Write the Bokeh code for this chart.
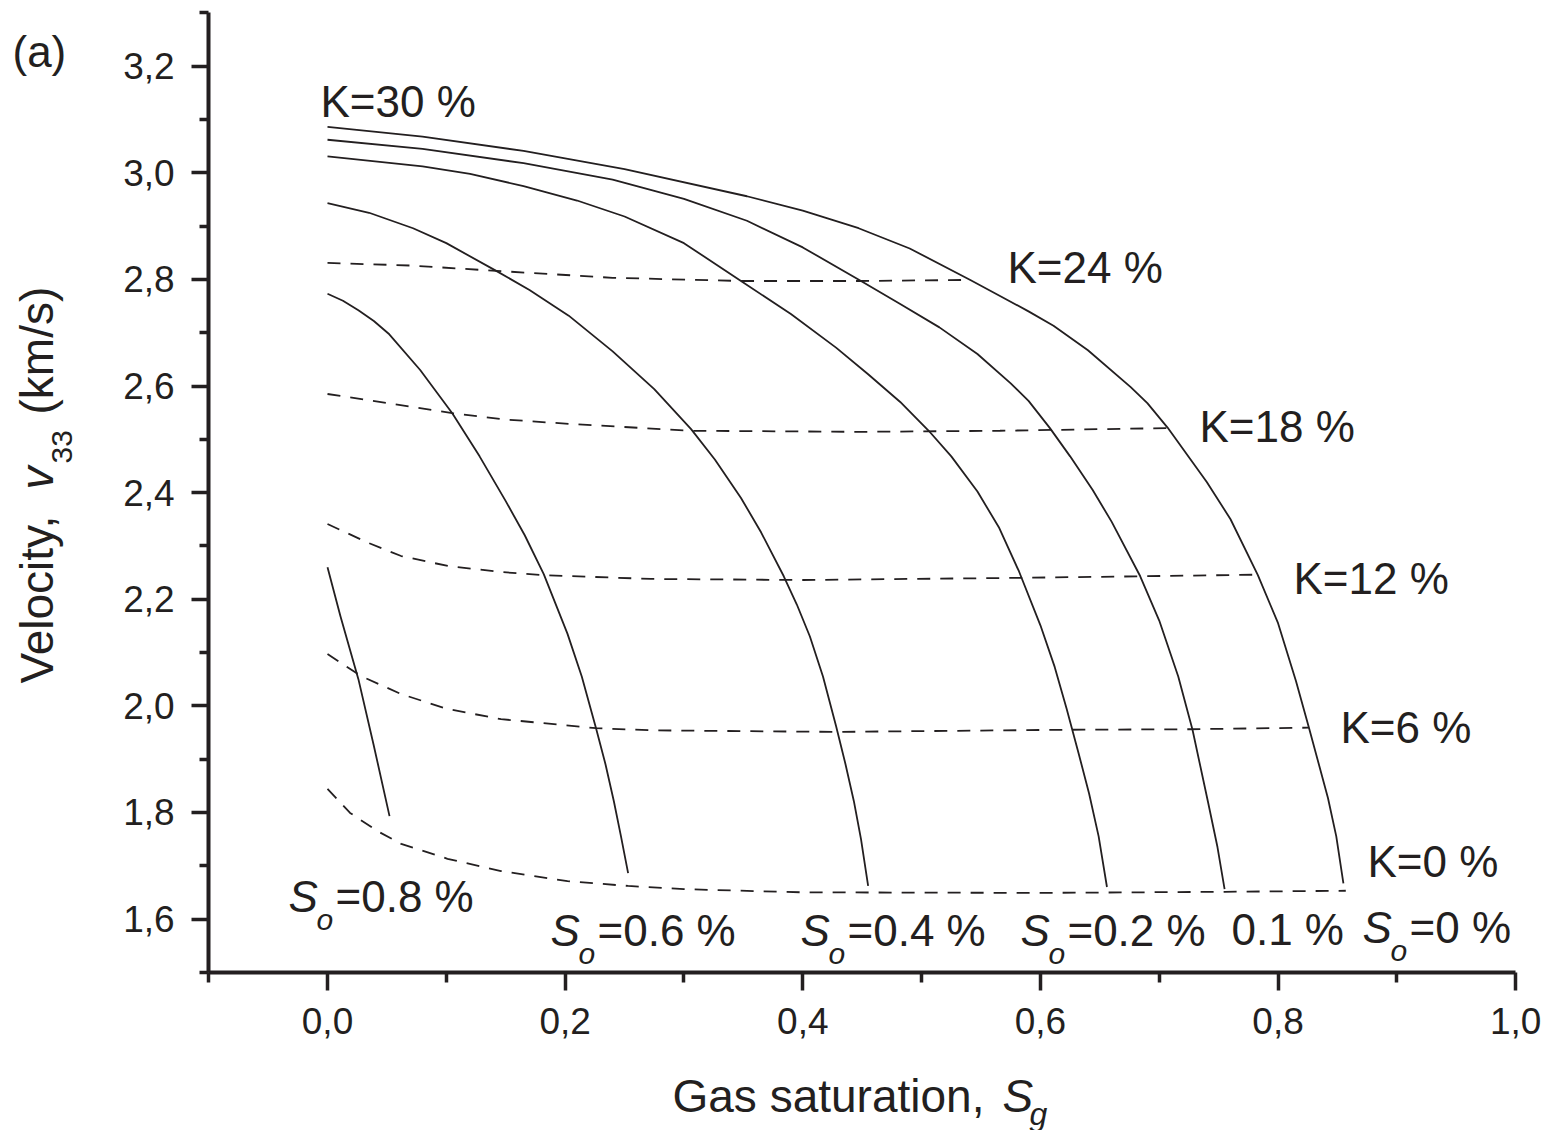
from bokeh.plotting import figure
from bokeh.models import Range1d, FixedTicker, CustomJSTickFormatter, Label, LinearAxis
from bokeh.embed import file_html
from bokeh.resources import INLINE

# ---------------- data ----------------
# solid curves: constant oil saturation So
sg_so08 = [0.0, 0.0109, 0.026, 0.0387, 0.0522]
v_so08 = [2.260, 2.168, 2.050, 1.928, 1.793]

sg_so06 = [0.0, 0.013, 0.026, 0.039, 0.052, 0.078, 0.105, 0.128, 0.150, 0.166, 0.182, 0.202,
           0.214, 0.226, 0.234, 0.241, 0.247, 0.253]
v_so06 = [2.773, 2.760, 2.742, 2.722, 2.697, 2.630, 2.549, 2.468, 2.384, 2.320, 2.247, 2.135,
          2.055, 1.958, 1.890, 1.821, 1.755, 1.686]

sg_so04 = [0.0, 0.035, 0.072, 0.100, 0.142, 0.170, 0.203, 0.240, 0.275, 0.306, 0.326, 0.348,
           0.365, 0.384, 0.395, 0.406, 0.417, 0.428, 0.436, 0.443, 0.449, 0.455]
v_so04 = [2.943, 2.925, 2.896, 2.868, 2.816, 2.780, 2.732, 2.665, 2.594, 2.519, 2.462, 2.390,
          2.325, 2.243, 2.190, 2.130, 2.055, 1.962, 1.890, 1.821, 1.750, 1.662]

sg_so02 = [0.0, 0.080, 0.120, 0.165, 0.210, 0.250, 0.300, 0.348, 0.390, 0.428, 0.455, 0.482,
           0.506, 0.525, 0.547, 0.565, 0.582, 0.600, 0.612, 0.622, 0.632, 0.641, 0.649, 0.656]
v_so02 = [3.031, 3.012, 2.998, 2.975, 2.948, 2.918, 2.868, 2.797, 2.735, 2.672, 2.622, 2.570,
          2.516, 2.468, 2.402, 2.335, 2.252, 2.151, 2.073, 1.995, 1.912, 1.835, 1.755, 1.660]

sg_so01 = [0.0, 0.080, 0.165, 0.240, 0.300, 0.353, 0.400, 0.449, 0.482, 0.515, 0.547, 0.575,
           0.590, 0.608, 0.625, 0.644, 0.660, 0.684, 0.700, 0.716, 0.728, 0.741, 0.749, 0.755]
v_so01 = [3.062, 3.045, 3.018, 2.987, 2.951, 2.910, 2.860, 2.797, 2.754, 2.710, 2.660, 2.605,
          2.572, 2.521, 2.468, 2.405, 2.345, 2.243, 2.160, 2.055, 1.955, 1.820, 1.735, 1.656]

sg_so00 = [0.0, 0.080, 0.165, 0.250, 0.353, 0.400, 0.447, 0.490, 0.541, 0.566, 0.590, 0.611,
           0.640, 0.676, 0.690, 0.707, 0.740, 0.760, 0.783, 0.800, 0.815, 0.826, 0.842, 0.849,
           0.855]
v_so00 = [3.086, 3.068, 3.041, 3.007, 2.956, 2.929, 2.896, 2.858, 2.799, 2.769, 2.740, 2.713,
          2.667, 2.598, 2.568, 2.522, 2.420, 2.350, 2.245, 2.155, 2.047, 1.959, 1.827, 1.755,
          1.667]

# dashed curves: constant K
sg_k24 = [0.0, 0.070, 0.142, 0.240, 0.348, 0.447, 0.541]
v_k24 = [2.831, 2.826, 2.816, 2.803, 2.797, 2.797, 2.799]

sg_k18 = [0.0, 0.050, 0.105, 0.150, 0.203, 0.306, 0.450, 0.566, 0.707]
v_k18 = [2.585, 2.568, 2.549, 2.537, 2.529, 2.516, 2.514, 2.516, 2.521]

sg_k12 = [0.0, 0.034, 0.062, 0.102, 0.146, 0.182, 0.272, 0.400, 0.580, 0.684, 0.783]
v_k12 = [2.341, 2.306, 2.281, 2.262, 2.251, 2.245, 2.238, 2.236, 2.240, 2.243, 2.246]

sg_k06 = [0.0, 0.028, 0.062, 0.101, 0.146, 0.226, 0.272, 0.428, 0.620, 0.725, 0.826]
v_k06 = [2.097, 2.056, 2.022, 1.994, 1.975, 1.958, 1.954, 1.951, 1.955, 1.956, 1.959]

sg_k00 = [0.0, 0.019, 0.042, 0.062, 0.101, 0.146, 0.202, 0.253, 0.300, 0.400, 0.600, 0.755, 0.857]
v_k00 = [1.844, 1.799, 1.765, 1.741, 1.713, 1.690, 1.671, 1.662, 1.656, 1.650, 1.649, 1.651, 1.653]

# curve annotations (data positions of the text's left baseline)
k_texts = ["K=30 %", "K=24 %", "K=18 %", "K=12 %", "K=6 %", "K=0 %"]
k_text_x = [-0.0059, 0.5723, 0.7339, 0.8130, 0.8525, 0.8752]
k_text_y = [3.1034, 2.7916, 2.4933, 2.2081, 1.9286, 1.6770]

so_texts = ["0.8", "0.6", "0.4", "0.2", "0.1", "0"]
so_has_symbol = [True, True, True, True, False, True]
so_text_x = [-0.0328, 0.1877, 0.3981, 0.5832, 0.7608, 0.8711]
so_text_y = [1.6122, 1.5484, 1.5484, 1.5484, 1.5503, 1.5540]

x_major = [0.0, 0.2, 0.4, 0.6, 0.8, 1.0]
x_minor = [-0.1, 0.1, 0.3, 0.5, 0.7, 0.9]
y_major = [1.6, 1.8, 2.0, 2.2, 2.4, 2.6, 2.8, 3.0, 3.2]
y_minor = [1.5, 1.7, 1.9, 2.1, 2.3, 2.5, 2.7, 2.9, 3.1, 3.3]
x_bounds = (-0.1, 1.0)
y_bounds = (1.5, 3.3)

# ---------------- layout ----------------
W, H = 1552, 1130
X0_PX, PX_PER_X = 327.0, 1188.2      # page x of Sg = 0, pixels per unit
Y0_PX, PX_PER_Y = 918.5, 533.0       # page y of v = 1.6, pixels per unit
x_range = Range1d(-X0_PX / PX_PER_X, (W - X0_PX) / PX_PER_X)
y_range = Range1d(1.6 - (H - Y0_PX) / PX_PER_Y, 1.6 + Y0_PX / PX_PER_Y)

INK = "#231f20"
FONT = "Liberation Sans"
BASE_SHIFT = 0.37   # renderer puts the alphabetic baseline this many em too low

p = figure(width=W, height=H, output_backend="svg", toolbar_location=None,
           x_range=x_range, y_range=y_range,
           x_axis_location=None, y_axis_location=None, min_border=0)
p.min_border_left = p.min_border_right = p.min_border_top = p.min_border_bottom = 0
p.outline_line_color = None
p.background_fill_color = "white"
p.border_fill_color = "white"
p.grid.visible = False

fmt = CustomJSTickFormatter(code="return tick.toFixed(1).replace('.', ',');")
xaxis = LinearAxis(fixed_location=y_bounds[0], bounds=x_bounds,
                   ticker=FixedTicker(ticks=x_major, minor_ticks=x_minor))
yaxis = LinearAxis(fixed_location=x_bounds[0], bounds=y_bounds,
                   ticker=FixedTicker(ticks=y_major, minor_ticks=y_minor))
for ax, tout, mout, stand in ((xaxis, 18, 10, 18), (yaxis, 17, 9, 17)):
    ax.formatter = fmt
    ax.axis_line_width = 4
    ax.axis_line_color = INK
    ax.major_tick_line_width = 3.5
    ax.minor_tick_line_width = 3.5
    ax.major_tick_line_color = INK
    ax.minor_tick_line_color = INK
    ax.major_tick_in = 0
    ax.minor_tick_in = 0
    ax.major_tick_out = tout
    ax.minor_tick_out = mout
    ax.major_label_standoff = stand
    ax.major_label_text_font = FONT
    ax.major_label_text_font_size = "37px"
    ax.major_label_text_color = INK
p.add_layout(xaxis, "below")
p.add_layout(yaxis, "left")

solid = [(sg_so08, v_so08), (sg_so06, v_so06), (sg_so04, v_so04),
         (sg_so02, v_so02), (sg_so01, v_so01), (sg_so00, v_so00)]
for xs, ys in solid:
    p.line(xs, ys, line_color=INK, line_width=1.8, line_join="round")

dashed = [(sg_k24, v_k24), (sg_k18, v_k18), (sg_k12, v_k12),
          (sg_k06, v_k06), (sg_k00, v_k00)]
for xs, ys in dashed:
    p.line(xs, ys, line_color=INK, line_width=1.8, line_dash="13 10")


def lab(size, **kw):
    base = dict(text_font=FONT, text_color=INK, text_align="left",
                text_baseline="alphabetic", text_font_size=f"{size}px")
    base.update(kw)
    p.add_layout(Label(**base))


def data_lab(x, y, size, dx=0, dy=0, **kw):
    lab(size, x=x, y=y, x_offset=dx, y_offset=dy + round(BASE_SHIFT * size), **kw)


def page_lab(px, py, size, **kw):
    # text by page pixel position of its left end on the baseline
    lab(size, x=px, y=H - py + round(BASE_SHIFT * size), x_units="screen", y_units="screen", **kw)


def page_lab_up(px, py, size, **kw):
    # rotated text reading upward; px is the baseline's page x, py its lower end
    lab(size, x=px - round(BASE_SHIFT * size), y=H - py, x_units="screen", y_units="screen",
        angle=90, angle_units="deg", **kw)


for t, x, y in zip(k_texts, k_text_x, k_text_y):
    data_lab(x, y, 44, text=t)

for t, has, x, y in zip(so_texts, so_has_symbol, so_text_x, so_text_y):
    if has:
        data_lab(x, y, 44, text="S", text_font_style="italic")
        data_lab(x, y, 30, dx=28, dy=-18, text="o", text_font_style="italic")
        data_lab(x, y, 44, dx=47, text="=" + t + " %")
    else:
        data_lab(x, y, 44, text=t + " %")

# panel tag
page_lab(12, 67, 44, text="(a)")

# x axis title: Gas saturation, S_g
page_lab(672, 1112, 46, text="Gas saturation,")
page_lab(1002, 1112, 46, text="S", text_font_style="italic")
page_lab(1029, 1125, 32, text="g", text_font_style="italic")

# y axis title: Velocity, v_33 (km/s)
page_lab_up(53, 683, 46, text="Velocity,")
page_lab_up(53, 489, 46, text="v", text_font_style="italic")
page_lab_up(72, 463, 30, text="33")
page_lab_up(53, 414, 46, text="(km/s)")

open("out.html", "w").write(file_html(p, INLINE))
